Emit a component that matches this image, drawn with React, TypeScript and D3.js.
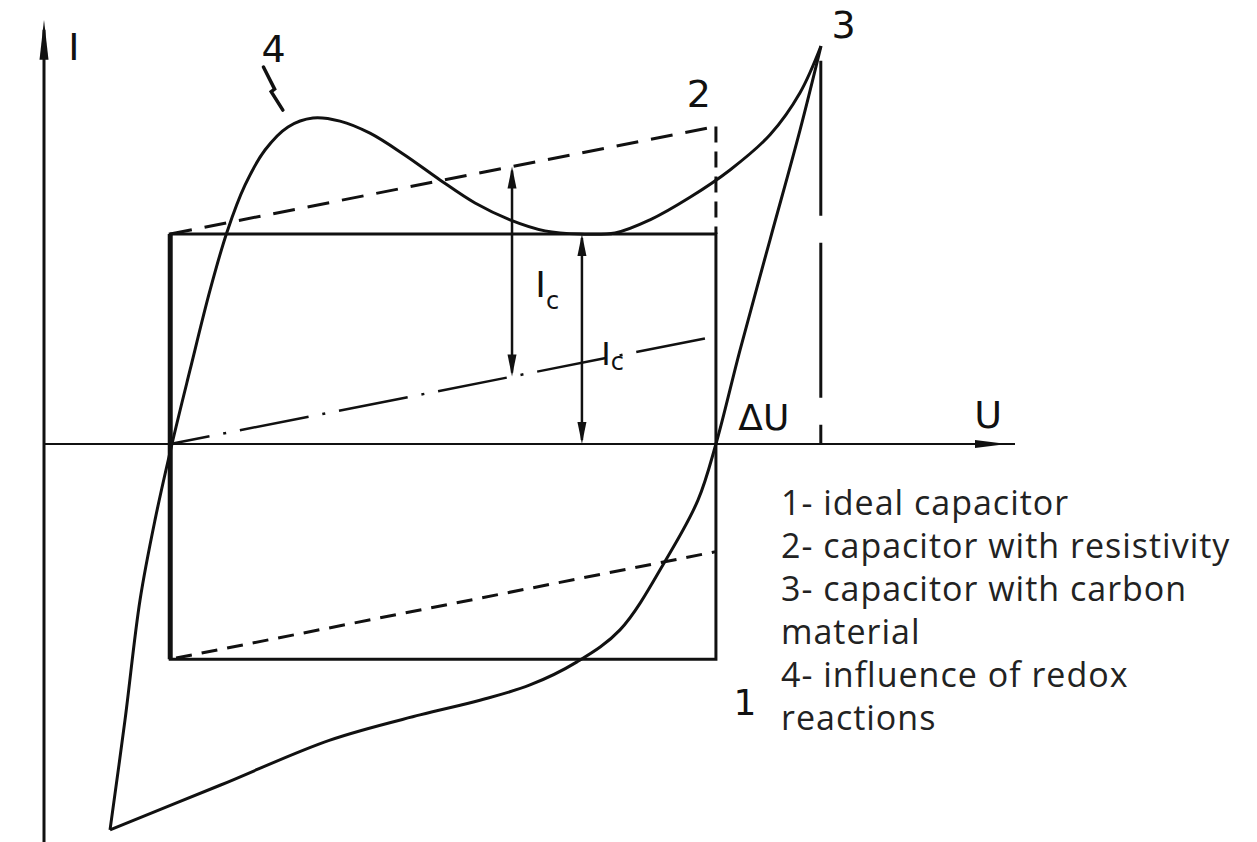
import React from "react";
import * as d3 from "d3";

const W = 1257;
const H = 842;

// Data space: U (horizontal), I (vertical), arbitrary units
const U_AXIS_END = 100;
const I_AXIS_RANGE = [-76.6, 80.8];

// Curve 1 – ideal capacitor (rectangle)
const RECT_U = [13, 69.2];
const RECT_I = [-41, 40];

// Curve 2 – capacitor with resistivity (parallelogram, dashed)
const C2_TOP: [number, number][] = [[13, 40], [69.2, 60.5]];
const C2_BOTTOM: [number, number][] = [[13, -41], [69.2, -20.5]];
const C2_RIGHT: [number, number][] = [[69.2, 60.5], [69.2, 40]];
// dash-dot middle line
const MID_LINE: [number, number][] = [[13, 0], [69.2, 20.5]];

// Curves 3/4 – upper (with redox hump) and lower branch
const UPPER: [number, number][] = [
  [6.8, -73.5], [8.34, -52.6], [9.89, -29.7], [11.43, -14.5], [13.18, 0],
  [15.04, 14.1], [17.1, 29.3], [18.85, 40.4], [20.7, 49.3], [22.76, 56.0],
  [25.13, 60.4], [27.7, 62.1], [30.48, 61.5], [33.57, 59.2], [37.18, 55.0],
  [40.78, 50.3], [44.39, 45.9], [47.99, 42.7], [51.6, 40.6], [55.2, 40.0],
  [58.81, 40.2], [62.41, 42.7], [66.53, 47.0], [70.65, 52.2], [74.77, 58.9],
  [77.86, 66.9], [80.02, 75.8],
];
const LOWER: [number, number][] = [
  [6.8, -73.5], [18.13, -65.0], [29.45, -56.4], [38.72, -51.6], [44.9, -48.8],
  [50.05, -45.9], [54.89, -41.5], [59.32, -35.4], [64.16, -21.7], [67.35, -10.7],
  [69.2, 0], [71.68, 17.9], [74.77, 38.9], [77.86, 59.8], [80.02, 75.8],
];
const PEAK_DROP: [number, number][] = [[80.0, 73.0], [80.0, 0]];

// Ic arrows
const IC_ARROW_U = [48.2, 55.4];

const LEGEND = [
  "1- ideal capacitor",
  "2- capacitor with resistivity",
  "3- capacitor with carbon",
  "material",
  "4- influence of redox",
  "reactions",
];

const POINTER4: [number, number][] = [[22.6, 71.8], [23.75, 67.6], [23.4, 67.1], [24.6, 63.6]];

const x = d3.scaleLinear().domain([0, 100]).range([44, 1015]);
const y = d3.scaleLinear().domain([0, 40]).range([444, 234]);

const lineLin = d3.line<[number, number]>().x((d) => x(d[0])).y((d) => y(d[1]));
const lineSmooth = d3
  .line<[number, number]>()
  .x((d) => x(d[0]))
  .y((d) => y(d[1]))
  .curve(d3.curveCatmullRom.alpha(0.5));

function valueAt(seg: [number, number][], u: number) {
  const t = (u - seg[0][0]) / (seg[1][0] - seg[0][0]);
  return seg[0][1] + t * (seg[1][1] - seg[0][1]);
}

function arrowHead(px: number, py: number, dir: "up" | "down" | "right", len = 20, half = 4.5) {
  if (dir === "up") return `M${px},${py} L${px - half},${py + len} L${px + half},${py + len} Z`;
  if (dir === "down") return `M${px},${py} L${px - half},${py - len} L${px + half},${py - len} Z`;
  return `M${px},${py} L${px - len},${py - half} L${px - len},${py + half} Z`;
}

export default function App() {
  const ink = "#111";
  const labelFont = "'DejaVu Sans', sans-serif";

  const arrows = [
    { u: IC_ARROW_U[0], top: valueAt(C2_TOP, IC_ARROW_U[0]), bottom: valueAt(MID_LINE, IC_ARROW_U[0]) },
    { u: IC_ARROW_U[1], top: RECT_I[1], bottom: 0 },
  ];

  return (
    <svg
      width={W}
      height={H}
      viewBox={`0 0 ${W} ${H}`}
      style={{ position: "absolute", left: 0, top: 0, background: "#fff" }}
    >
      <rect width={W} height={H} fill="#fff" />
      {/* Axes */}
      <line x1={x(0)} x2={x(0)} y1={y(I_AXIS_RANGE[0])} y2={y(I_AXIS_RANGE[1]) + 10} stroke={ink} strokeWidth={3} />
      <path d={arrowHead(x(0), y(I_AXIS_RANGE[1]), "up", 40, 4.5)} fill={ink} />
      <line x1={x(0)} x2={x(U_AXIS_END)} y1={y(0)} y2={y(0)} stroke={ink} strokeWidth={2.2} />
      <path d={arrowHead(x(U_AXIS_END) - 8, y(0), "right", 32, 4)} fill={ink} />

      {/* Curve 1: rectangle */}
      <rect
        x={x(RECT_U[0])}
        y={y(RECT_I[1])}
        width={x(RECT_U[1]) - x(RECT_U[0])}
        height={y(RECT_I[0]) - y(RECT_I[1])}
        fill="none"
        stroke={ink}
        strokeWidth={3}
      />
      <line x1={x(RECT_U[0])} x2={x(RECT_U[0])} y1={y(RECT_I[1])} y2={y(RECT_I[0])} stroke={ink} strokeWidth={5} />

      {/* Curve 2: dashed */}
      <path d={lineLin(C2_TOP) || ""} fill="none" stroke={ink} strokeWidth={3} strokeDasharray="22 13" />
      <path d={lineLin(C2_BOTTOM) || ""} fill="none" stroke={ink} strokeWidth={3} strokeDasharray="16 10" strokeDashoffset={-6} />
      <path d={lineLin(C2_RIGHT) || ""} fill="none" stroke={ink} strokeWidth={3} strokeDasharray="16 9" />

      {/* dash-dot */}
      <path d={lineLin(MID_LINE) || ""} fill="none" stroke={ink} strokeWidth={2.5} strokeDasharray="70 14 3 14" strokeDashoffset={30} />

      {/* Curves 3/4 */}
      <path d={lineSmooth(UPPER) || ""} fill="none" stroke={ink} strokeWidth={3} strokeLinejoin="round" />
      <path d={lineSmooth(LOWER) || ""} fill="none" stroke={ink} strokeWidth={3} strokeLinejoin="round" />
      <path d={lineLin(PEAK_DROP) || ""} fill="none" stroke={ink} strokeWidth={3} strokeDasharray="155 27" />

      {/* Ic arrows */}
      {arrows.map((a, k) => (
        <g key={k}>
          <line x1={x(a.u)} x2={x(a.u)} y1={y(a.top) + 4} y2={y(a.bottom) - 4} stroke={ink} strokeWidth={2.5} />
          <path d={arrowHead(x(a.u), y(a.top), "up", 22, 4.5)} fill={ink} />
          <path d={arrowHead(x(a.u), y(a.bottom), "down", 22, 4.5)} fill={ink} />
        </g>
      ))}

      {/* pointer for 4 */}
      <path d={lineLin(POINTER4) || ""} fill="none" stroke={ink} strokeWidth={3.5} strokeLinecap="round" />

      {/* Diagram labels */}
      <g fontFamily={labelFont} fill={ink}>
        <text x={x(2.5)} y={y(73.1)} fontSize={38}>I</text>
        <text x={x(22.4)} y={y(72.8)} fontSize={38}>4</text>
        <text x={x(66.2)} y={y(64.2)} fontSize={38}>2</text>
        <text x={x(81.1)} y={y(77.3)} fontSize={38}>3</text>
        <text x={x(71.5)} y={y(2.6)} fontSize={36}>ΔU</text>
        <text x={x(95.8)} y={y(3.0)} fontSize={38}>U</text>
        <text x={x(71.0)} y={y(-51.6)} fontSize={36}>1</text>
        <text x={x(50.6)} y={y(28.0)} fontSize={36}>
          I<tspan fontSize={24} dy={12}>c</tspan>
        </text>
        <text x={x(57.4)} y={y(15.0)} fontSize={32}>
          I<tspan fontSize={24} dy={5}>c</tspan>
        </text>
      </g>

      {/* Legend */}
      <g fontFamily="'Open Sans', 'Noto Sans', sans-serif" fill="#222" fontSize={34} letterSpacing={1}>
        {LEGEND.map((t, k) => (
          <text key={k} x={781} y={515 + k * 43}>{t}</text>
        ))}
      </g>
    </svg>
  );
}
